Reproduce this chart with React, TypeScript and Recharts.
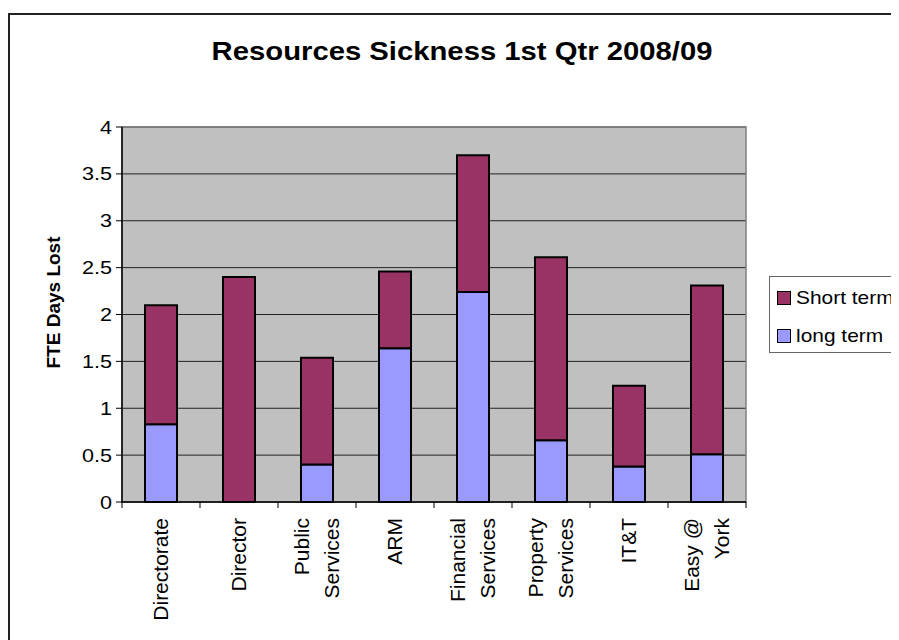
import React from 'react';
import {
    BarChart,
    Bar,
    XAxis,
    YAxis,
    CartesianGrid,
    ReferenceArea
} from 'recharts';

const categories = [
    'Directorate',
    'Director',
    'Public Services',
    'ARM',
    'Financial Services',
    'Property Services',
    'IT&T',
    'Easy @ York'
];
const longTerm = [0.83, 0, 0.4, 1.64, 2.24, 0.66, 0.38, 0.51];
const shortTerm = [1.27, 2.4, 1.14, 0.82, 1.46, 1.95, 0.86, 1.8];
const yTicks = [0, 0.5, 1, 1.5, 2, 2.5, 3, 3.5, 4];

const tickLines: Record<string, string[]> = {
    'Public Services': ['Public', 'Services'],
    'Financial Services': ['Financial', 'Services'],
    'Property Services': ['Property', 'Services'],
    'Easy @ York': ['Easy @', 'York']
};

const data = categories.map((name, i) => ({
    name,
    long: longTerm[i],
    short: shortTerm[i]
}));

const FONT = 'Arial, "Liberation Sans", sans-serif';
const STRETCH = 1.2;

const CategoryTick = ({ x, y, payload, index }: any) => {
    const half = payload && payload.offset ? payload.offset : 39;
    const lines = tickLines[payload.value] || [payload.value];
    const lh = 30;
    return (
        <g>
            <line x1={x - half} x2={x - half} y1={y - 8} y2={y - 2} stroke="#000" strokeWidth={1} />
            {index === categories.length - 1 && (
                <line x1={x + half} x2={x + half} y1={y - 8} y2={y - 2} stroke="#000" strokeWidth={1} />
            )}
            <g transform={`translate(${x},${y + 8}) rotate(-90)`}>
                {lines.map((t: string, i: number) => (
                    <text
                        key={i}
                        x={0}
                        y={(i - (lines.length - 1) / 2) * lh + 7}
                        textAnchor="end"
                        fontSize={21}
                        fontFamily={FONT}
                        fill="#000"
                    >
                        {t}
                    </text>
                ))}
            </g>
        </g>
    );
};

const ValueTick = ({ x, y, payload }: any) => (
    <g transform={`translate(${x - 2},${y}) scale(${STRETCH},1)`}>
        <text x={0} y={0} dy={6.5} textAnchor="end" fontSize={18} fontFamily={FONT} fill="#000">
            {payload.value}
        </text>
    </g>
);

const AxisTitle = ({ viewBox }: any) => {
    const cx = viewBox.x + 25;
    const cy = viewBox.y + viewBox.height / 2 - 12;
    return (
        <text
            transform={`translate(${cx},${cy}) rotate(-90)`}
            x={0}
            y={7}
            textAnchor="middle"
            fontSize={19}
            fontWeight="bold"
            fontFamily={FONT}
            fill="#000"
        >
            FTE Days Lost
        </text>
    );
};

const LegendBox = () => (
    <div
        style={{
            position: 'absolute',
            left: 761,
            top: 268,
            border: '1px solid #666',
            background: '#fff',
            width: 150,
            height: 77,
            fontFamily: FONT,
            fontSize: 19,
            color: '#000',
            boxSizing: 'border-box',
            padding: '8px 0 0 7px'
        }}
    >
        <div style={{ display: 'flex', alignItems: 'center', height: 26 }}>
            <span style={{ width: 12, height: 12, background: '#993366', border: '1px solid #000', marginRight: 5 }} />
            <span style={{ display: 'inline-block', transform: 'scaleX(1.1)', transformOrigin: 'left center' }}>Short term</span>
        </div>
        <div style={{ display: 'flex', alignItems: 'center', height: 26, marginTop: 12 }}>
            <span style={{ width: 12, height: 12, background: '#9999FF', border: '1px solid #000', marginRight: 5 }} />
            <span style={{ display: 'inline-block', transform: 'scaleX(1.1)', transformOrigin: 'left center' }}>long term</span>
        </div>
    </div>
);

export default function App() {
    return (
        <div style={{ position: 'relative', width: 891, height: 632, overflow: 'hidden', background: '#fff' }}>
            <div
                style={{
                    position: 'absolute',
                    left: 0,
                    top: 5,
                    width: 1000,
                    height: 1000,
                    border: '2px solid #222',
                    boxSizing: 'border-box'
                }}
            />
            <div
                style={{
                    position: 'absolute',
                    left: 0,
                    top: 28,
                    width: 908,
                    textAlign: 'center',
                    fontFamily: FONT,
                    fontWeight: 'bold',
                    fontSize: 25,
                    lineHeight: '30px',
                    color: '#000'
                }}
            >
                <span style={{ display: 'inline-block', transform: 'scaleX(1.17)' }}>
                    Resources Sickness 1st Qtr 2008/09
                </span>
            </div>
            <BarChart
                width={891}
                height={632}
                data={data}
                margin={{ top: 119, right: 153, bottom: 8, left: 20 }}
                barSize={32}
                style={{ position: 'absolute', left: 0, top: 0 }}
            >
                <CartesianGrid vertical={false} stroke="#222" fill="#C0C0C0" fillOpacity={1} />
                <ReferenceArea y1={0} y2={4} fill="none" stroke="#808080" strokeWidth={1.5} />
                <XAxis
                    dataKey="name"
                    height={130}
                    interval={0}
                    tickLine={false}
                    axisLine={{ stroke: '#000', strokeWidth: 1.5 }}
                    tick={<CategoryTick />}
                />
                <YAxis
                    width={94}
                    domain={[0, 4]}
                    ticks={yTicks}
                    interval={0}
                    tick={<ValueTick />}
                    tickLine={{ stroke: '#000' }}
                    axisLine={{ stroke: '#000', strokeWidth: 1.5 }}
                    label={<AxisTitle />}
                />
                <Bar dataKey="long" name="long term" stackId="a" fill="#9999FF" stroke="#000" strokeWidth={2} isAnimationActive={false} />
                <Bar dataKey="short" name="Short term" stackId="a" fill="#993366" stroke="#000" strokeWidth={2} isAnimationActive={false} />
            </BarChart>
            <LegendBox />
        </div>
    );
}
